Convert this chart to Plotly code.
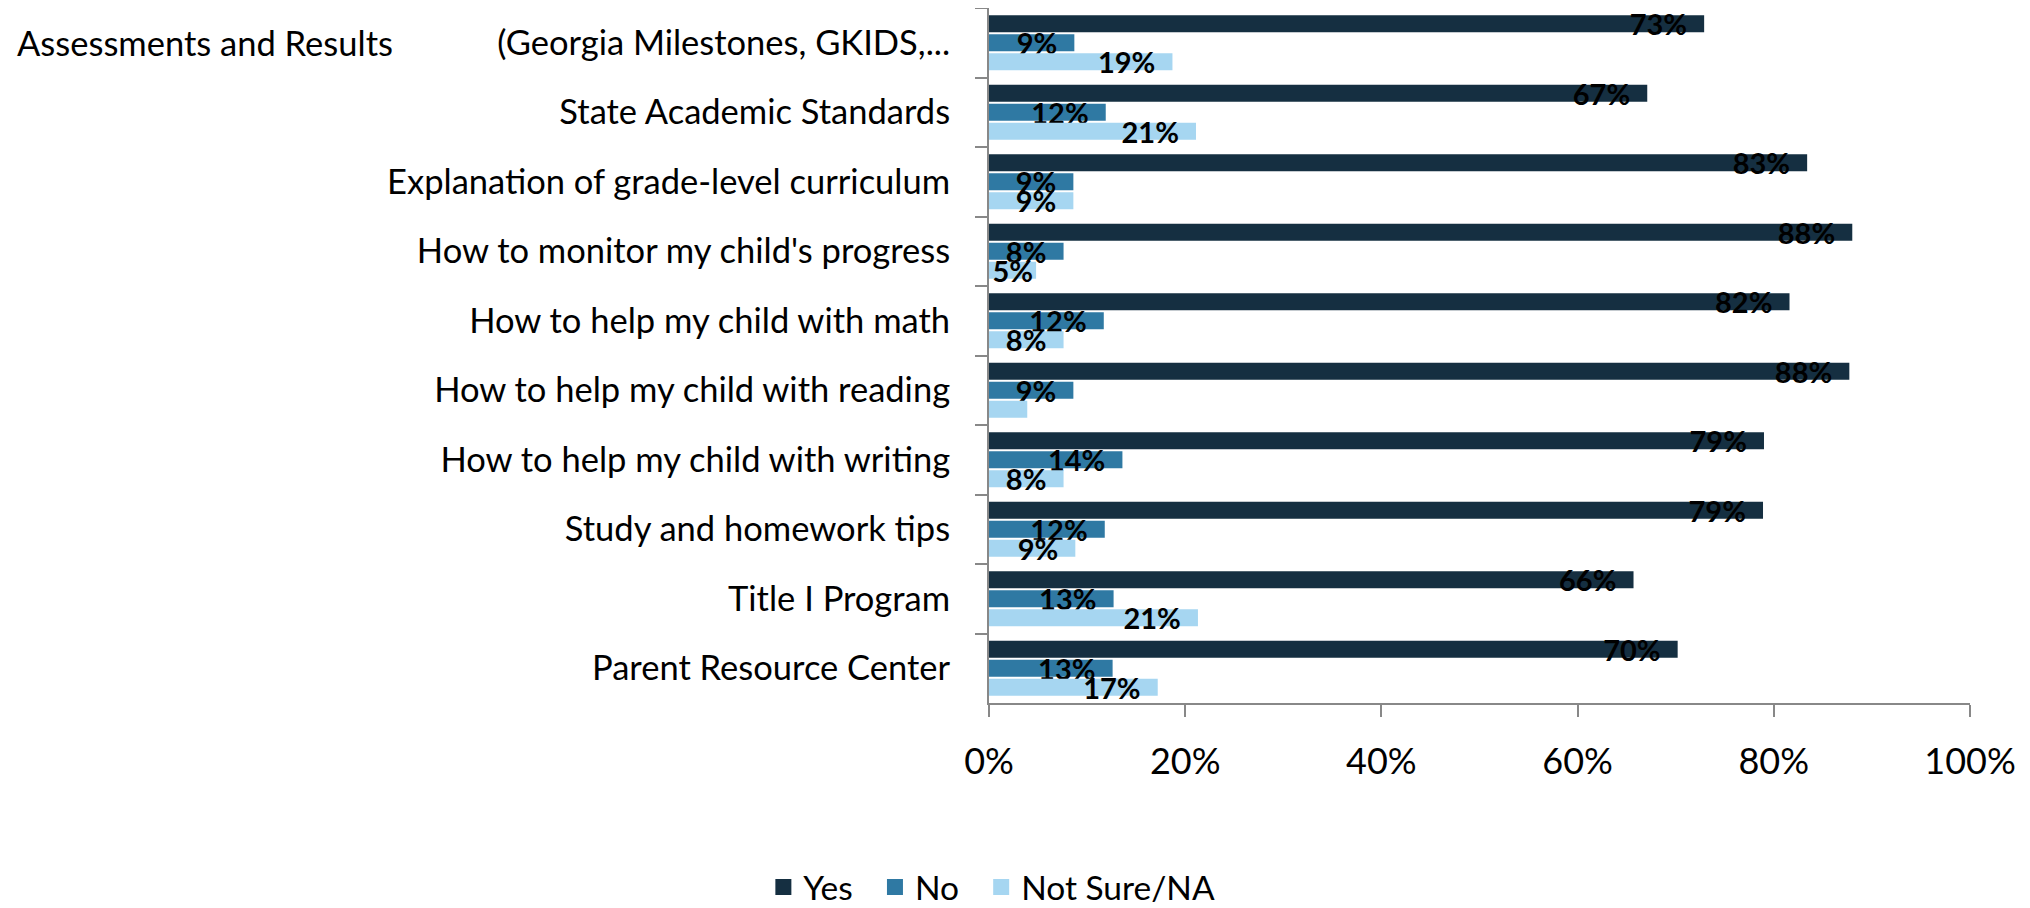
import plotly.graph_objects as go

categories = [
    "(Georgia Milestones, GKIDS,...",
    "State Academic Standards",
    "Explanation of grade-level curriculum",
    "How to monitor my child's progress",
    "How to help my child with math",
    "How to help my child with reading",
    "How to help my child with writing",
    "Study and homework tips",
    "Title I Program",
    "Parent Resource Center",
]
first_label_prefix = "Assessments and Results"

yes_vals = [72.9, 67.1, 83.4, 88.0, 81.6, 87.7, 79.0, 78.9, 65.7, 70.2]
no_vals = [8.7, 11.9, 8.6, 7.6, 11.7, 8.6, 13.6, 11.8, 12.7, 12.6]
ns_vals = [18.7, 21.1, 8.6, 4.8, 7.6, 3.9, 7.6, 8.8, 21.3, 17.2]
ns_hidden_labels = [5]  # label not shown in the original

x_ticks = [0, 0.2, 0.4, 0.6, 0.8, 1.0]

series = [
    ("Yes", yes_vals, "#152f41"),
    ("No", no_vals, "#2f79a3"),
    ("Not Sure/NA", ns_vals, "#a6d6f1"),
]

NB = "\u00a0"
fig = go.Figure()
for name, vals, color in series:
    texts = [f"{int(v + 0.5)}%" + (NB * 2 if v >= 6 else "") for v in vals]
    if name == "Not Sure/NA":
        for i in ns_hidden_labels:
            texts[i] = ""
    fig.add_trace(go.Bar(
        name=name,
        y=categories,
        x=[v / 100 for v in vals],
        orientation="h",
        marker=dict(color=color, line=dict(width=0)),
        text=texts,
        textposition="inside",
        insidetextanchor="end",
        textangle=0,
        constraintext="none",
        textfont=dict(family="Lato", size=29, color="black", weight="bold"),
        cliponaxis=False,
        hoverinfo="skip",
        showlegend=False,
    ))

# legend entries with larger square swatches
legend_pad = {"Yes": 2, "No": 2, "Not Sure/NA": 0}
for name, vals, color in series:
    fig.add_trace(go.Scatter(
        name=name + NB * legend_pad[name], x=[None], y=[None], mode="markers",
        marker=dict(symbol="square", size=17, color=color),
        showlegend=True, hoverinfo="skip",
    ))

fig.add_annotation(
    x=-0.9924, xref="paper", xanchor="left",
    y=categories[0], yref="y", yanchor="middle",
    text=first_label_prefix, showarrow=False,
    font=dict(family="Lato", size=34.5, color="black"),
)

fig.update_layout(
    width=2030, height=908,
    margin=dict(l=981, r=68, t=0, b=211, pad=0),
    paper_bgcolor="white", plot_bgcolor="white",
    barmode="group", bargap=0.18, bargroupgap=0.1,
    showlegend=True,
    legend=dict(
        orientation="h", x=-0.23, xanchor="left", y=-0.265, yanchor="middle",
        font=dict(family="Lato", size=33.5, color="black"),
        traceorder="normal",
    ),
    font=dict(family="Lato", color="black"),
)
fig.update_xaxes(
    range=[0, 1], tickvals=x_ticks, tickformat=".0%",
    showgrid=False, zeroline=False, automargin=False,
    showline=True, linecolor="#888888", linewidth=2,
    ticks="outside", ticklen=12, tickcolor="#888888", tickwidth=2,
    tickfont=dict(family="Lato", size=36, color="black"),
    ticklabelstandoff=14,
)
fig.update_yaxes(
    autorange="reversed", automargin=False,
    showgrid=False, zeroline=False,
    showline=True, linecolor="#888888", linewidth=2,
    ticks="outside", ticklen=12, tickcolor="#888888", tickwidth=2,
    tickson="boundaries",
    tickfont=dict(family="Lato", size=34.5, color="black"),
    ticklabelstandoff=30,
)

fig.write_html("out.html")
